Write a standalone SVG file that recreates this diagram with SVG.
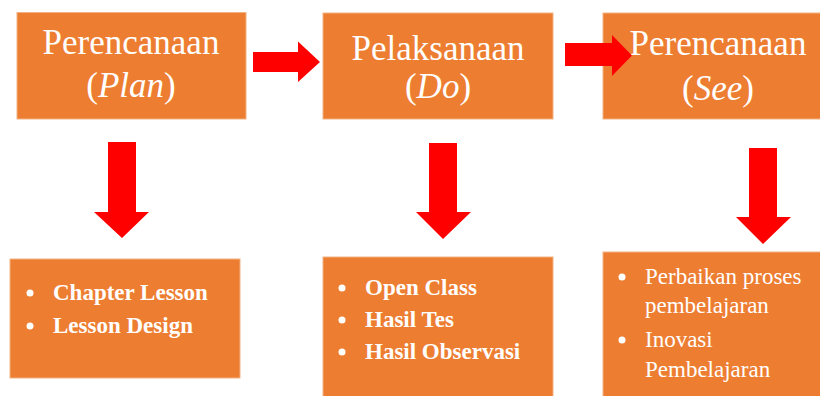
<svg xmlns="http://www.w3.org/2000/svg" width="820" height="396" viewBox="0 0 820 396">
<style>
.box{fill:#ED7D31;stroke:#F4B183;stroke-width:1}
.arr{fill:#FF0000}
.t{font-family:"Liberation Serif","Times New Roman",serif;fill:#FFFFFF}
.h{font-size:35px;text-anchor:middle}
.b{font-size:23px;font-weight:bold}
.r{font-size:23px}
</style>
<rect width="820" height="396" fill="#FFFFFF"/>
<g id="plan">
<rect class="box" x="17" y="12.5" width="229" height="106.5"/>
<text class="t h" x="131" y="54">Perencanaan</text>
<text class="t h" x="131" y="97">(<tspan font-style="italic">Plan</tspan>)</text>
</g>
<g id="do">
<rect class="box" x="323" y="13" width="230" height="106"/>
<text class="t h" x="438" y="60">Pelaksanaan</text>
<text class="t h" x="438" y="98">(<tspan font-style="italic">Do</tspan>)</text>
</g>
<g id="see">
<rect class="box" x="603" y="13" width="230" height="106"/>
<text class="t h" x="718" y="55">Perencanaan</text>
<text class="t h" x="718" y="100">(<tspan font-style="italic">See</tspan>)</text>
</g>
<g id="plan-items">
<rect class="box" x="10" y="259" width="230" height="119"/>
<circle cx="30" cy="293" r="3.5" fill="#FFFFFF"/>
<text class="t b" x="53" y="300">Chapter Lesson</text>
<circle cx="30" cy="326" r="3.5" fill="#FFFFFF"/>
<text class="t b" x="53" y="333">Lesson Design</text>
</g>
<g id="do-items">
<rect class="box" x="323" y="257" width="230" height="145"/>
<circle cx="342" cy="288" r="3.5" fill="#FFFFFF"/>
<text class="t b" x="365" y="295">Open Class</text>
<circle cx="342" cy="320" r="3.5" fill="#FFFFFF"/>
<text class="t b" x="365" y="327">Hasil Tes</text>
<circle cx="342" cy="352" r="3.5" fill="#FFFFFF"/>
<text class="t b" x="365" y="359">Hasil Observasi</text>
</g>
<g id="see-items">
<rect class="box" x="603" y="252" width="230" height="150"/>
<circle cx="622" cy="277" r="3.5" fill="#FFFFFF"/>
<text class="t r" x="645" y="284">Perbaikan proses</text>
<text class="t r" x="645" y="313">pembelajaran</text>
<circle cx="622" cy="340" r="3.5" fill="#FFFFFF"/>
<text class="t r" x="645" y="347">Inovasi</text>
<text class="t r" x="645" y="377">Pembelajaran</text>
</g>
<g id="connectors">
<polygon class="arr" points="253,52 298,52 298,41.5 320,62 298,82 298,72 253,72"/>
<polygon class="arr" points="565,43 612,43 612,35 632,55.5 612,76 612,66 565,66"/>
<polygon class="arr" points="108,142 136,142 136,212 149,212 122,238 94,212 108,212"/>
<polygon class="arr" points="429,143 457,143 457,212 471,212 443,239 416,212 429,212"/>
<polygon class="arr" points="749,148 777,148 777,217 791,217 763,244 736,217 749,217"/>
</g>
</svg>
